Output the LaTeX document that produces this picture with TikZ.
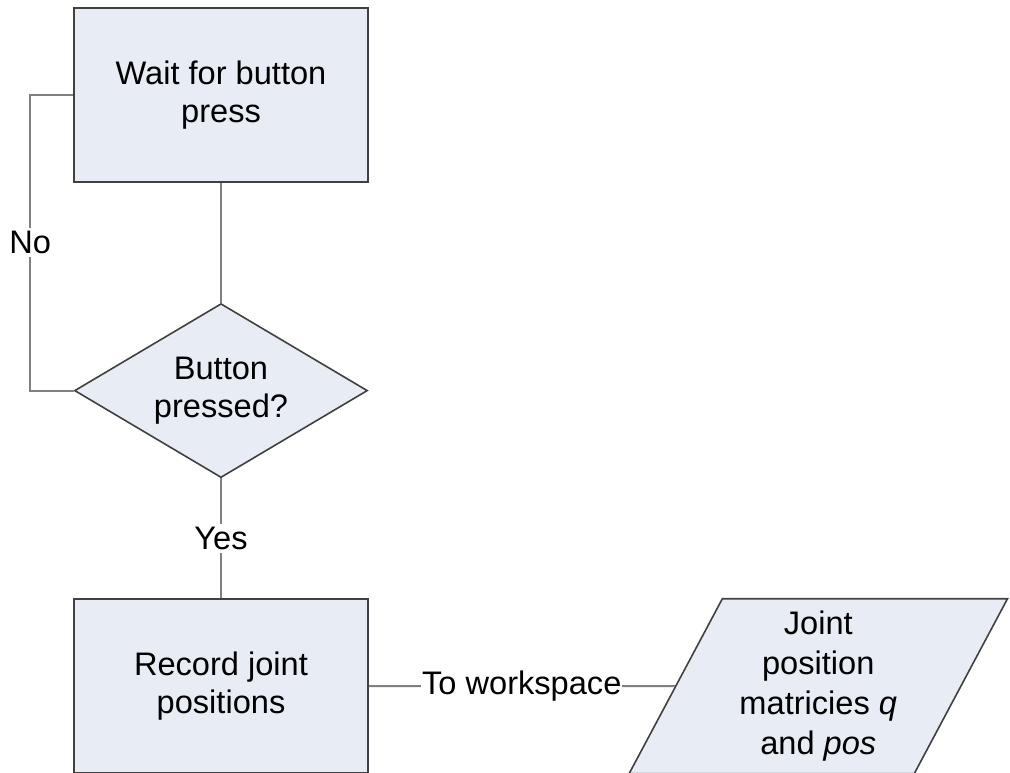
\documentclass[tikz,border=0pt]{standalone}
\usepackage{fontspec}
\setmainfont{Liberation Sans}
\usetikzlibrary{shapes,arrows,positioning,calc}
\definecolor{boxfill}{RGB}{232,236,245}
\definecolor{boxline}{RGB}{64,64,64}
\definecolor{linkgray}{RGB}{128,128,128}
\newcommand{\flowfont}{\fontsize{16.3}{19}\selectfont}
\newcommand{\datafont}{\fontsize{16.3}{20}\selectfont}

\begin{document}
\begin{tikzpicture}[
    node distance=60pt,
    box/.style={rectangle, draw=boxline, fill=boxfill, line width=0.8pt, minimum width=147pt, minimum height=87pt, align=center, font=\flowfont},
    decision/.style={diamond, aspect=1.68, draw=boxline, fill=boxfill, line width=0.8pt, minimum width=146.5pt, minimum height=87pt, inner sep=0pt, align=center, font=\flowfont},
    data/.style={trapezium, trapezium left angle=63, trapezium right angle=117, trapezium stretches=true, draw=boxline, fill=boxfill, line width=0.8pt, minimum width=189.5pt, minimum height=87.5pt, inner sep=0pt, align=center, font=\datafont},
    link/.style={draw=linkgray, line width=1pt},
    tag/.style={fill=white, inner xsep=0.5pt, inner ysep=1.5pt, font=\flowfont}
]
\useasboundingbox (0,0) rectangle (505pt,-386pt);
\node[box] (wait) at (110.5pt,-47.5pt) {Wait for button\\press};
\node[decision, below=of wait] (pressed) {Button\\pressed?};
\node[box, below=of pressed] (record) {Record joint\\positions};
\node[data, right=153pt of record] (matrices) {Joint\\position\\matricies \textit{q}\\and \textit{pos}};

\draw[link] (wait) -- (pressed);
\draw[link] (wait.west) -- ++(-21.5pt,0) |- node[tag, pos=0.25] {No} (pressed.west);
\draw[link] (pressed) -- node[tag] {Yes} (record);
\draw[link] (record) -- node[tag] {To workspace} (matrices);
\end{tikzpicture}
\end{document}
